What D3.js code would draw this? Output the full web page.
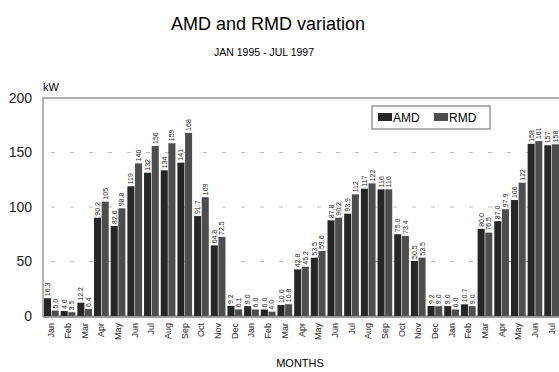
<!DOCTYPE html>
<html>
<head>
<meta charset="utf-8">
<script src="https://cdn.jsdelivr.net/npm/d3@7"></script>
<style>
  body { margin: 0; background: #fff; }
  svg { display: block; font-family: 'Liberation Sans', Arial, sans-serif; }
</style>
</head>
<body>
<div id="chart"></div>
<script>
// months Jan 1995 .. Jul 1997
const months = ['Jan','Feb','Mar','Apr','May','Jun','Jul','Aug','Sep','Oct','Nov','Dec',
                'Jan','Feb','Mar','Apr','May','Jun','Jul','Aug','Sep','Oct','Nov','Dec',
                'Jan','Feb','Mar','Apr','May','Jun','Jul'];
const amd = [16.3, 4.6, 12.2, 90.2, 82.6, 119, 131.5, 133.7, 140.7, 91.7, 64.8, 9.2,
             9.0, 6.0, 10.0, 42.8, 53.5, 87.8, 93.9, 116.8, 116.2, 75.0, 50.5, 9.2,
             9.0, 10.7, 80.0, 87.0, 106.4, 158, 156.6];
const rmd = [5.0, 3.5, 6.4, 104.9, 98.8, 140, 156, 158.5, 168, 109, 72.5, 6.1,
             6.0, 4.0, 10.8, 45.2, 59.6, 90.2, 111.6, 121.7, 116.2, 73.4, 53.5, 9.0,
             6.0, 9.0, 76.5, 97.9, 122.3, 160.5, 157.5];
const seriesNames = ['AMD', 'RMD'];
const yTicks = [0, 50, 100, 150, 200];

const width = 559, height = 372;
const margin = { left: 43, right: -1, top: 98, bottom: 56 };
const colors = { AMD: '#262626', RMD: '#4d4d4d' };

const svg = d3.select('#chart').append('svg')
    .attr('width', width)
    .attr('height', height);

const x = d3.scaleBand()
    .domain(d3.range(months.length))
    .range([margin.left, width - margin.right])
    .paddingInner(0.12)
    .paddingOuter(0.06);

const xs = d3.scaleBand()
    .domain(seriesNames)
    .range([0, x.bandwidth()])
    .paddingInner(0.08);

const y = d3.scaleLinear()
    .domain([0, 200])
    .range([height - margin.bottom, margin.top]);

// titles
svg.append('text')
    .attr('x', 268).attr('y', 30)
    .attr('text-anchor', 'middle')
    .style('font-size', '18px')
    .text('AMD and RMD variation');

svg.append('text')
    .attr('x', 264).attr('y', 56)
    .attr('text-anchor', 'middle')
    .style('font-size', '10.5px')
    .text('JAN 1995 - JUL 1997');

svg.append('text')
    .attr('x', 43).attr('y', 91)
    .style('font-size', '11px')
    .text('kW');

// gridlines
svg.append('g')
    .selectAll('line')
    .data(yTicks.filter(t => t > 0 && t < 200))
    .enter().append('line')
    .attr('x1', margin.left + 8)
    .attr('x2', width)
    .attr('y1', d => y(d))
    .attr('y2', d => y(d))
    .attr('stroke', '#bbb')
    .attr('stroke-width', 1)
    .attr('stroke-dasharray', '4,15');

// y axis labels
const yAxis = svg.append('g')
    .attr('transform', `translate(${margin.left},0)`)
    .call(d3.axisLeft(y).tickValues(yTicks).tickSize(0).tickPadding(11));
yAxis.select('.domain').remove();
yAxis.selectAll('text').style('font-size', '14px').attr('fill', '#222');

// frame
svg.append('rect')
    .attr('x', margin.left)
    .attr('y', margin.top)
    .attr('width', width - margin.left - margin.right)
    .attr('height', y(0) - margin.top)
    .attr('fill', 'none')
    .attr('stroke', '#999')
    .attr('stroke-width', 1.5);

// bars
const rows = months.map((m, i) => ({ i, AMD: amd[i], RMD: rmd[i] }));
const fmt = v => v >= 100 ? d3.format('.0f')(v) : d3.format('.1f')(v);

const groups = svg.append('g')
    .selectAll('g')
    .data(rows)
    .enter().append('g')
    .attr('transform', d => `translate(${x(d.i)},0)`);

groups.selectAll('rect')
    .data(d => seriesNames.map(k => ({ key: k, value: d[k] })))
    .enter().append('rect')
    .attr('x', d => xs(d.key))
    .attr('y', d => y(d.value))
    .attr('width', xs.bandwidth())
    .attr('height', d => y(0) - y(d.value))
    .attr('fill', d => colors[d.key]);

groups.selectAll('text.val')
    .data(d => seriesNames.map(k => ({ key: k, value: d[k] })))
    .enter().append('text')
    .attr('class', 'val')
    .attr('transform', d => `translate(${xs(d.key) + xs.bandwidth() / 2 + 2.5},${y(d.value) - 2}) rotate(-90)`)
    .style('font-size', '7px')
    .attr('fill', '#222')
    .text(d => fmt(d.value));

// bottom axis line
svg.append('line')
    .attr('x1', margin.left).attr('x2', width)
    .attr('y1', y(0) + 1).attr('y2', y(0) + 1)
    .attr('stroke', '#999').attr('stroke-width', 2);

// month labels
svg.append('g')
    .selectAll('text')
    .data(months)
    .enter().append('text')
    .attr('transform', (d, i) => `translate(${x(i) + x.bandwidth() / 2 + 3},${y(0) + 7}) rotate(-90)`)
    .attr('text-anchor', 'end')
    .style('font-size', '9px')
    .attr('fill', '#222')
    .text(d => d);

svg.append('text')
    .attr('x', 300).attr('y', 367)
    .attr('text-anchor', 'middle')
    .style('font-size', '11px')
    .text('MONTHS');

// legend
const legend = svg.append('g').attr('transform', 'translate(372,106)');
legend.append('rect')
    .attr('width', 118).attr('height', 23)
    .attr('fill', '#fff')
    .attr('stroke', '#999')
    .attr('stroke-width', 1.5);
const items = legend.selectAll('g')
    .data(seriesNames)
    .enter().append('g')
    .attr('transform', (d, i) => `translate(${6 + i * 56},0)`);
items.append('rect')
    .attr('y', 7).attr('width', 14).attr('height', 8)
    .attr('fill', d => colors[d]);
items.append('text')
    .attr('x', 15).attr('y', 16)
    .style('font-size', '12px')
    .text(d => d);
</script>
</body>
</html>
